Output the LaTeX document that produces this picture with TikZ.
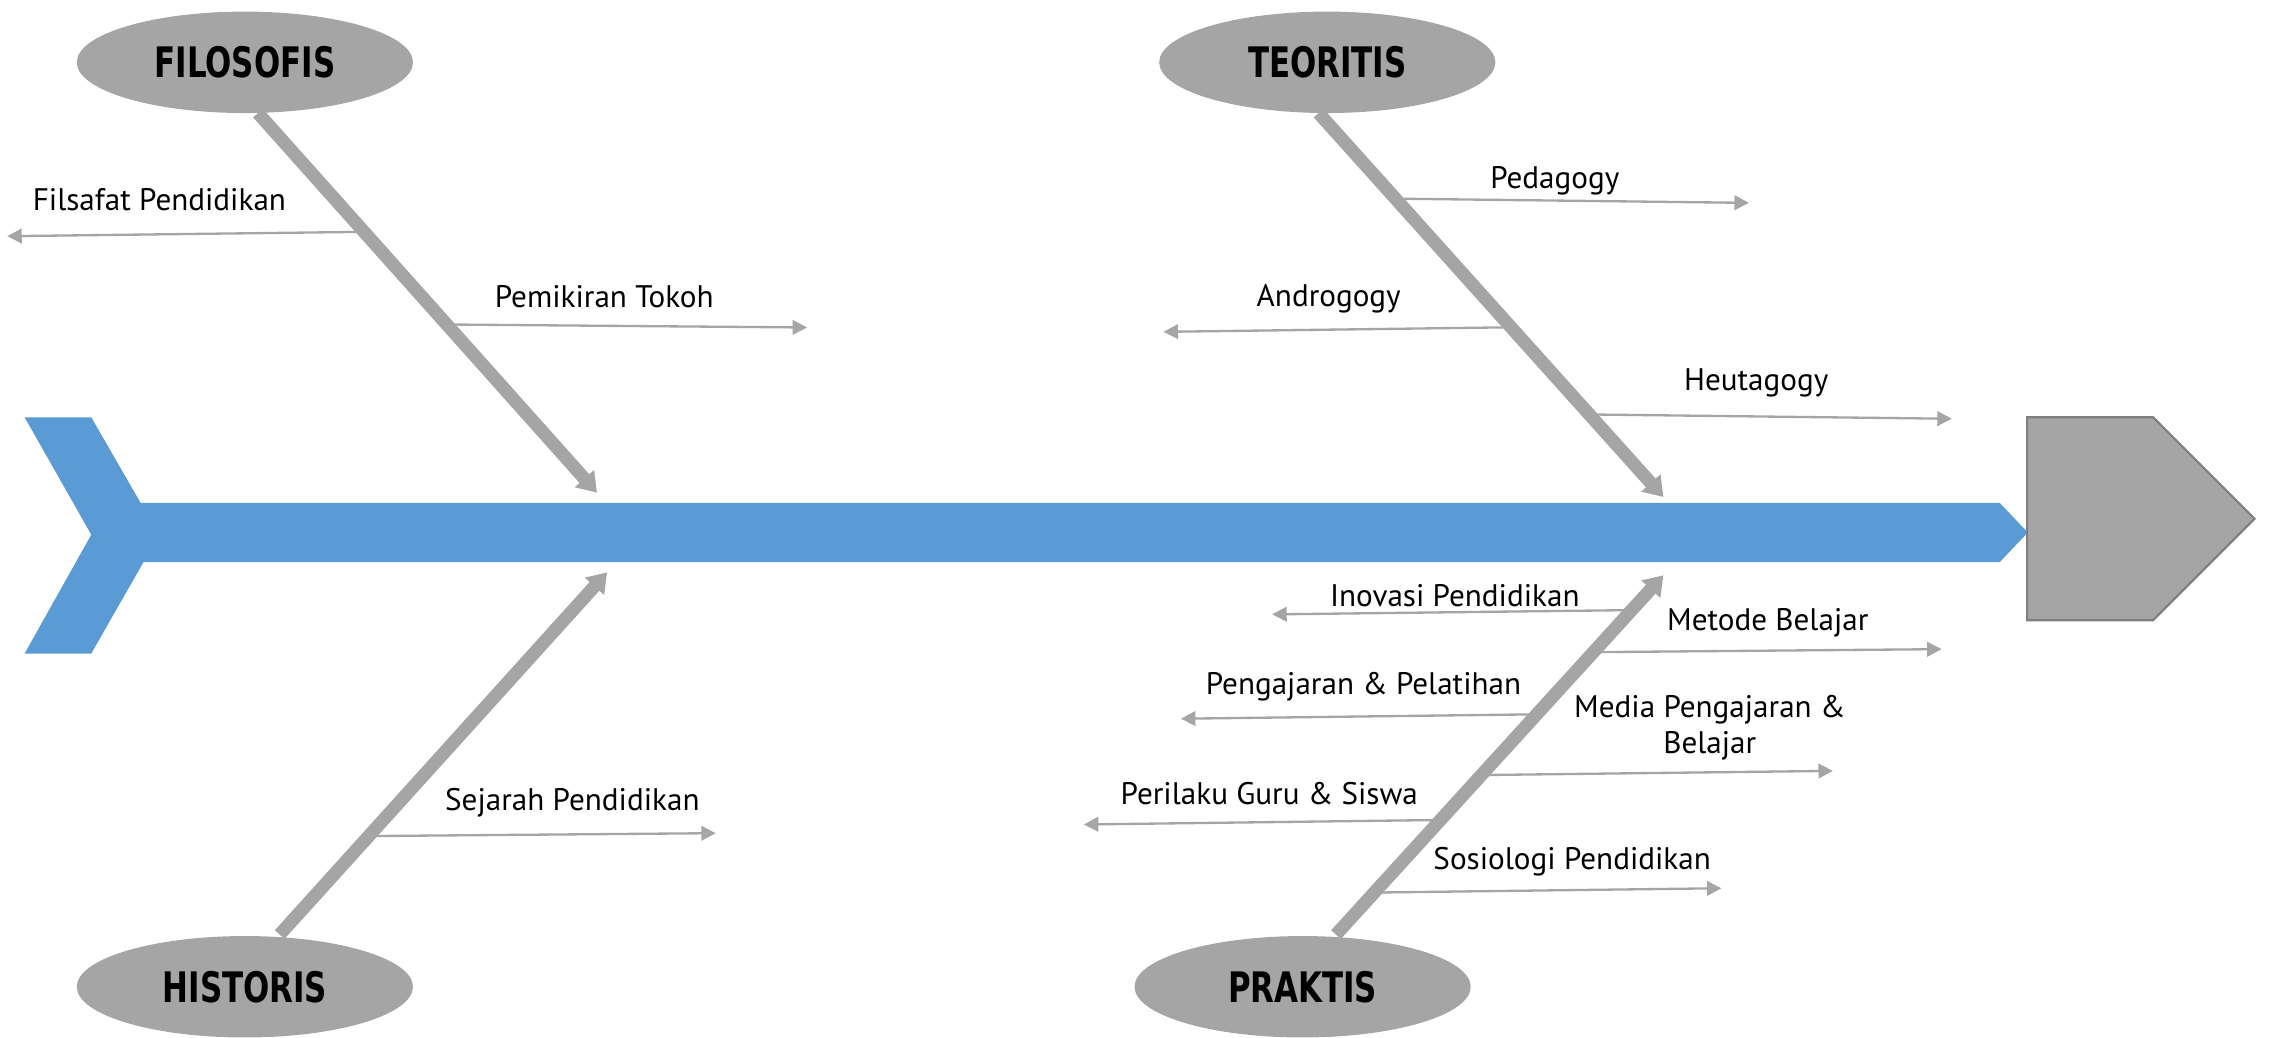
\documentclass[tikz,border=0pt]{standalone}
\usepackage{fontspec}
\setmainfont{PT Sans}
\newfontfamily\titlefont{DejaVu Sans}
\usetikzlibrary{arrows.meta,calc,shapes.geometric}
\definecolor{spineblue}{HTML}{5B9BD5}
\definecolor{bonegray}{HTML}{A5A5A5}
\definecolor{headedge}{HTML}{7F7F7F}
\begin{document}
\begin{tikzpicture}[x=1pt,y=-1pt,
  cat/.style={ellipse, fill=bonegray, minimum width=232pt, minimum height=70pt, inner sep=0pt,
    font=\titlefont\bfseries\fontsize{29}{32}\selectfont},
  bone/.style={draw=bonegray, line width=9pt, -{Triangle[length=13pt,width=17pt]}},
  twig/.style={draw=bonegray, line width=1.6pt, -{Triangle[length=10pt,width=10pt]}},
  lbl/.style={font=\fontsize{21.5}{25}\selectfont, inner sep=0pt, align=center}]
\useasboundingbox (0,0) rectangle (1568,716);

% spine
\path[fill=spineblue] (17,288) -- (63,288) -- (97,347) -- (1380,347) -- (1399.5,367.5)
  -- (1380,388) -- (99,388) -- (63,451) -- (17,451) -- (63,369) -- cycle;
% head
\path[fill=bonegray, draw=headedge, line width=1.5pt] (1399,288) -- (1486,288) -- (1556,358)
  -- (1486,428) -- (1399,428) -- cycle;
\coordinate (head) at (1477,358);

% bone coordinates
\coordinate (fs) at (178,78);  \coordinate (fe) at (412,340);
\coordinate (ts) at (910,78);  \coordinate (te) at (1148,343);
\coordinate (hs) at (193,645); \coordinate (he) at (419,395);
\coordinate (ps) at (922,645); \coordinate (pe) at (1148,397);

% twig ends
\coordinate (e1) at (5,163);
\coordinate (e2) at (557,226);
\coordinate (e3) at (1207,140);
\coordinate (e4) at (803,229);
\coordinate (e5) at (1347,289);
\coordinate (e6) at (494,575);
\coordinate (e7) at (878,424);
\coordinate (e8) at (1340,448);
\coordinate (e9) at (815,496);
\coordinate (e10) at (1265,532);
\coordinate (e11) at (748,569);
\coordinate (e12) at (1188,613);

% twigs
\draw[twig] ($(fs)!0.313!(fe)$) -- (e1);
\draw[twig] ($(fs)!0.557!(fe)$) -- (e2);
\draw[twig] ($(ts)!0.223!(te)$) -- (e3);
\draw[twig] ($(ts)!0.558!(te)$) -- (e4);
\draw[twig] ($(ts)!0.785!(te)$) -- (e5);
\draw[twig] ($(hs)!0.272!(he)$) -- (e6);
\draw[twig] ($(ps)!0.903!(pe)$) -- (e7);
\draw[twig] ($(ps)!0.786!(pe)$) -- (e8);
\draw[twig] ($(ps)!0.613!(pe)$) -- (e9);
\draw[twig] ($(ps)!0.444!(pe)$) -- (e10);
\draw[twig] ($(ps)!0.319!(pe)$) -- (e11);
\draw[twig] ($(ps)!0.117!(pe)$) -- (e12);

% bones
\draw[bone] (fs) -- (fe);
\draw[bone] (ts) -- (te);
\draw[bone] (hs) -- (he);
\draw[bone] (ps) -- (pe);

% category ellipses
\node[cat] (filo) at (169,43) {\scalebox{0.735}[1]{FILOSOFIS}};
\node[cat] (teor) at (916,43) {\scalebox{0.735}[1]{TEORITIS}};
\node[cat] (hist) at (169,681) {\scalebox{0.735}[1]{HISTORIS}};
\node[cat] (prak) at (899,681) {\scalebox{0.735}[1]{PRAKTIS}};

% labels
\node[lbl] (l1) at (110,138) {Filsafat Pendidikan};
\node[lbl] (l2) at (417,205) {Pemikiran Tokoh};
\node[lbl] (l3) at (1073,125) {Pedagogy};
\node[lbl] (l4) at (917,206) {Androgogy};
\node[lbl] (l5) at (1212,264) {Heutagogy};
\node[lbl] (l6) at (395,554) {Sejarah Pendidikan};
\node[lbl] (l7) at (1004,411) {Inovasi Pendidikan};
\node[lbl] (l8) at (1220,430) {Metode Belajar};
\node[lbl] (l9) at (941,474) {Pengajaran \& Pelatihan};
\node[lbl] (l10) at (1180,502) {Media Pengajaran \&\\Belajar};
\node[lbl] (l11) at (876,548) {Perilaku Guru \& Siswa};
\node[lbl] (l12) at (1085,595) {Sosiologi Pendidikan};
\end{tikzpicture}
\end{document}
